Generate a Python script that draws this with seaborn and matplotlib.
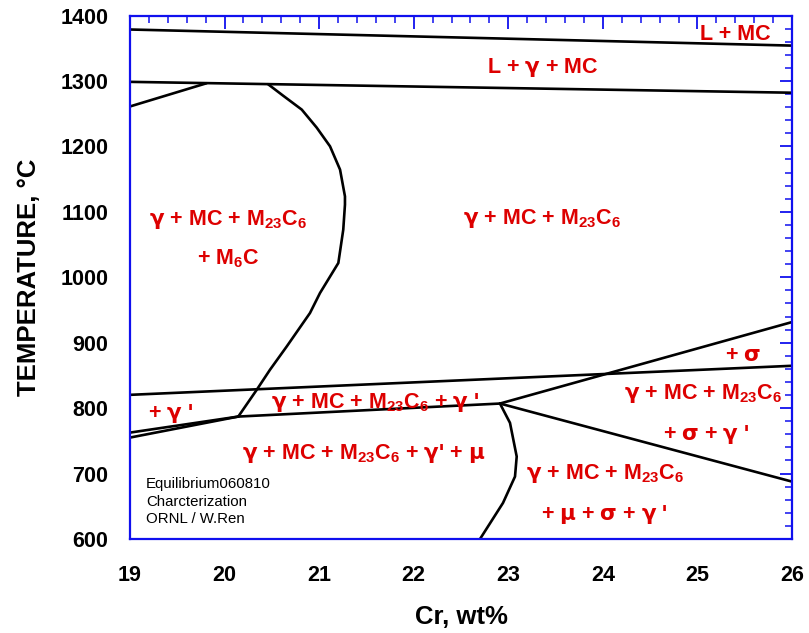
import numpy as np
import pandas as pd
import matplotlib
matplotlib.use("Agg")
import matplotlib.pyplot as plt
import seaborn as sns
from matplotlib.ticker import MultipleLocator

# ---------------- data (phase boundaries, Cr wt% vs T degC) ----------------
liq_top_x = [19.0, 26.0]
liq_top_y = [1378.6, 1354.0]

solidus_x = [19.0, 26.0]
solidus_y = [1298.6, 1282.0]

left_upper_x = [19.0, 19.81]
left_upper_y = [1261.0, 1296.5]

m6c_x = [20.46, 20.618, 20.816, 20.974, 21.115, 21.221, 21.273, 21.273, 21.255,
         21.203, 21.009, 20.903, 20.657, 20.480, 20.340, 20.145]
m6c_y = [1295.0, 1277.6, 1256.2, 1228.7, 1200.1, 1164.5, 1123.6, 1110.9, 1072.7,
         1021.8, 975.9, 945.3, 894.2, 858.6, 828.0, 787.1]

sigma_x = [19.0, 26.0]
sigma_y = [820.3, 864.7]

gp_a_x = [19.0, 20.145]
gp_a_y = [762.6, 787.1]
gp_b_x = [19.0, 20.145]
gp_b_y = [755.0, 787.1]

gp_solvus_x = [20.145, 22.912]
gp_solvus_y = [787.1, 807.0]

upper_right_x = [22.912, 26.0]
upper_right_y = [807.0, 931.5]

lower_right_x = [22.912, 26.0]
lower_right_y = [807.0, 687.7]

mu_x = [22.912, 23.018, 23.089, 23.071, 22.944, 22.701]
mu_y = [807.0, 777.5, 726.0, 695.4, 655.1, 600.0]

segments = {
    "liq_top": (liq_top_x, liq_top_y),
    "solidus": (solidus_x, solidus_y),
    "left_upper": (left_upper_x, left_upper_y),
    "m6c": (m6c_x, m6c_y),
    "sigma": (sigma_x, sigma_y),
    "gp_a": (gp_a_x, gp_a_y),
    "gp_b": (gp_b_x, gp_b_y),
    "gp_solvus": (gp_solvus_x, gp_solvus_y),
    "upper_right": (upper_right_x, upper_right_y),
    "lower_right": (lower_right_x, lower_right_y),
    "mu": (mu_x, mu_y),
}

G = r"$\mathsf{\gamma}$"
MU = r"$\mathsf{\mu}$"
SG = r"$\mathsf{\sigma}$"
M23 = r"M$_{23}$C$_6$"

# phase-field labels
label_texts = [
    "L + MC",
    f"L + {G} + MC",
    f"{G} + MC + {M23}",
    "+ M$_6$C",
    f"{G} + MC + {M23}",
    f"+ {G} '",
    f"{G} + MC + {M23} + {G} '",
    f"{G} + MC + {M23} + {G}' + {MU}",
    f"{G} + MC + {M23}",
    f"+ {MU} + {SG} + {G} '",
    f"{G} + MC + {M23}",
    f"+ {SG} + {G} '",
    f"+ {SG}",
]
label_x = [25.40, 23.36, 20.04, 20.04, 23.36, 19.43, 21.59, 21.47, 24.02, 24.02, 25.06, 25.09, 25.48]
label_y = [1371, 1320, 1088, 1029, 1090, 792, 808, 731, 700, 637, 823, 759, 881]

note_lines = ["Equilibrium060810", "Charcterization", "ORNL / W.Ren"]
note_x = 19.17
note_y = [684, 657, 630]

x_ticks = [19, 20, 21, 22, 23, 24, 25, 26]
y_ticks = [600, 700, 800, 900, 1000, 1100, 1200, 1300, 1400]

# ---------------- plotting ----------------
sns.set_theme(style="white")
plt.rcParams["font.family"] = ["Liberation Sans", "DejaVu Sans"]
plt.rcParams["mathtext.fontset"] = "custom"
plt.rcParams["mathtext.rm"] = "Liberation Sans:bold"
plt.rcParams["mathtext.sf"] = "DejaVu Sans:bold"
plt.rcParams["mathtext.default"] = "regular"
plt.rcParams["text.color"] = "black"
plt.rcParams["axes.labelcolor"] = "black"

rows = []
for name, (xs, ys) in segments.items():
    for i, (a, b) in enumerate(zip(xs, ys)):
        rows.append({"seg": name, "order": i, "Cr": a, "T": b})
df = pd.DataFrame(rows)

fig = plt.figure(figsize=(8.09, 6.33), dpi=100)
ax = fig.add_axes([130 / 809, 1 - 539 / 633, (792 - 130) / 809, (539 - 15.5) / 633])

sns.lineplot(data=df, x="Cr", y="T", units="seg", estimator=None, sort=False,
             color="black", linewidth=1.9, ax=ax, legend=False)

ax.set_xlim(19, 26)
ax.set_ylim(600, 1400)
ax.set_xticks(x_ticks)
ax.set_yticks(y_ticks)
ax.xaxis.set_minor_locator(MultipleLocator(0.2))
ax.yaxis.set_minor_locator(MultipleLocator(20))

blue = "#1010ee"
for sp in ax.spines.values():
    sp.set_color(blue)
    sp.set_linewidth(1.6)
ax.tick_params(which="both", direction="in", top=True, right=True, color=blue,
               labelcolor="black")
ax.tick_params(which="major", length=9, width=1.3, labelsize=15.5)
ax.tick_params(which="minor", length=5, width=1.1)
ax.tick_params(axis="y", which="major", pad=15.5)
ax.tick_params(axis="x", which="major", pad=18.5)
for lab in ax.get_xticklabels() + ax.get_yticklabels():
    lab.set_fontweight("bold")

ax.set_xlabel("Cr, wt%", fontsize=18.5, fontweight="bold", labelpad=14)
ax.set_ylabel("TEMPERATURE, °C", fontsize=18.5, fontweight="bold", labelpad=14)

red = "#dd0000"
for t, x, y in zip(label_texts, label_x, label_y):
    ax.text(x, y, t, color=red, fontsize=15.5, fontweight="bold",
            ha="center", va="center")

for t, y in zip(note_lines, note_y):
    ax.text(note_x, y, t, color="black", fontsize=10.8, ha="left", va="center")

fig.savefig("out.png", dpi=100)
